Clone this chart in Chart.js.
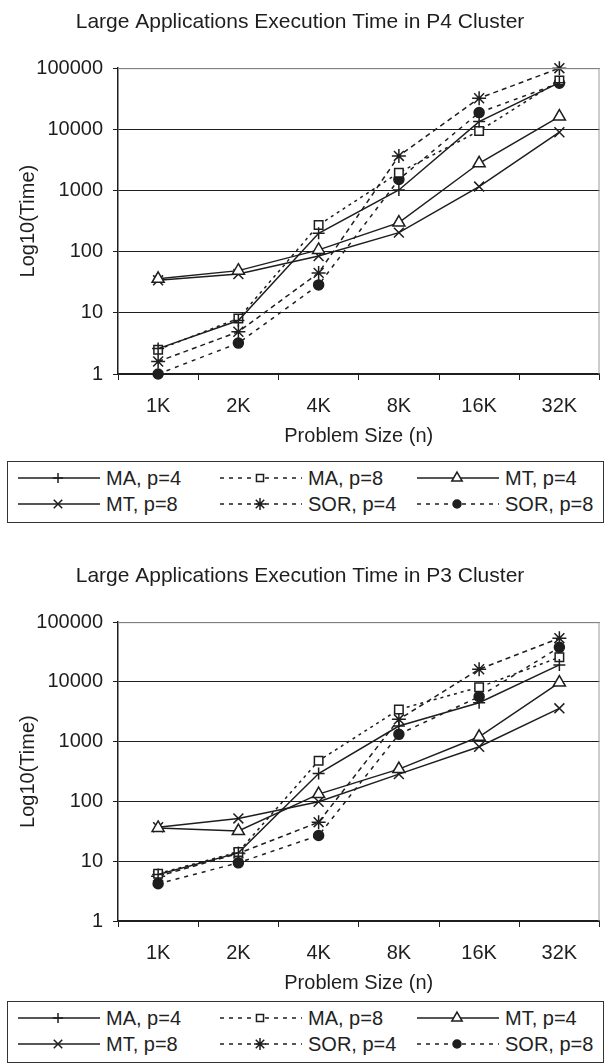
<!DOCTYPE html>
<html lang="en">
  <head>
    <meta charset="UTF-8" />
    <title>Large Applications Execution Time</title>
    <script src="https://cdn.jsdelivr.net/npm/chart.js"></script>
    <style>
      body {
        margin: 0;
        background: #fff;
        font-family: "Liberation Sans", Arial, sans-serif;
        color: #222;
      }
      .wrap {
        position: relative;
        width: 608px;
        height: 1063px;
        overflow: hidden;
      }
      .chart-box {
        position: absolute;
        left: 0;
        width: 608px;
      }
      .legend {
        position: absolute;
        left: 7px;
        width: 595px;
        height: 60px;
        border: 1px solid #333;
        font-size: 20px;
      }
      .legend .item {
        position: absolute;
        height: 26px;
        display: flex;
        align-items: center;
      }
      .legend canvas {
        margin-right: 6px;
      }
    </style>
  </head>
  <body>
    <div class="wrap">
      <div class="chart-box" style="top: 0; height: 448px">
        <canvas id="p4Chart"></canvas>
      </div>
      <div class="legend" id="p4Legend" style="top: 461px"></div>
      <div class="chart-box" style="top: 554px; height: 441px">
        <canvas id="p3Chart"></canvas>
      </div>
      <div class="legend" id="p3Legend" style="top: 1001px"></div>
    </div>

    <script>
      const sizes = ["1K", "2K", "4K", "8K", "16K", "32K"];
      const yTicks = [1, 10, 100, 1000, 10000, 100000];
      const seriesNames = ["MA, p=4", "MA, p=8", "MT, p=4", "MT, p=8", "SOR, p=4", "SOR, p=8"];

      // P4 cluster (seconds)
      const p4MA4 = [2.6, 7.5, 200, 1020, 13400, 58000];
      const p4MA8 = [2.5, 8.1, 273, 1960, 9440, 63000];
      const p4MT4 = [36, 49, 107, 299, 2790, 16200];
      const p4MT8 = [34, 43, 85, 205, 1160, 8980];
      const p4SOR4 = [1.6, 4.9, 45, 3680, 32300, 100000];
      const p4SOR8 = [1.0, 3.2, 28.6, 1520, 18800, 57000];

      // P3 cluster
      const p3MA4 = [6.0, 13.8, 294, 1830, 4500, 19300];
      const p3MA8 = [6.2, 14.3, 480, 3470, 8160, 25900];
      const p3MT4 = [36, 32, 133, 348, 1210, 9750];
      const p3MT8 = [37, 52, 99, 287, 825, 3620];
      const p3SOR4 = [5.6, 13.5, 45, 2370, 16300, 54000];
      const p3SOR8 = [4.2, 9.4, 27, 1330, 5680, 38000];

      const ink = "#1e1e1e";
      const fontFamily = "'Liberation Sans', Arial, sans-serif";

      // line / marker look for each series
      const styles = [
        { dash: [], point: "cross", radius: 6, fill: "#fff" },
        { dash: [3, 4], point: "rect", radius: 6, fill: "#fff" },
        { dash: [], point: "triangle", radius: 7, fill: "#fff" },
        { dash: [], point: "crossRot", radius: 7, fill: "#fff" },
        { dash: [5, 4], point: "star", radius: 7, fill: "#fff" },
        { dash: [4, 5], point: "circle", radius: 5, fill: ink },
      ];

      function buildDatasets(values) {
        return values.map((data, i) => ({
          label: seriesNames[i],
          data: data,
          borderColor: ink,
          borderWidth: 1.5,
          borderDash: styles[i].dash,
          pointStyle: styles[i].point,
          pointRadius: styles[i].radius,
          pointBorderWidth: 1.5,
          pointBorderColor: ink,
          pointBackgroundColor: styles[i].fill,
          tension: 0,
          clip: false,
        }));
      }

      const plotFrame = {
        id: "plotFrame",
        afterDatasetsDraw(chart) {
          const { ctx, chartArea } = chart;
          ctx.save();
          ctx.strokeStyle = "#9a9a9a";
          ctx.lineWidth = 1;
          ctx.beginPath();
          ctx.moveTo(chartArea.left, chartArea.top + 0.5);
          ctx.lineTo(chartArea.right - 0.5, chartArea.top + 0.5);
          ctx.lineTo(chartArea.right - 0.5, chartArea.bottom);
          ctx.stroke();
          ctx.restore();
        },
      };

      function makeChart(id, title, values) {
        return new Chart(document.getElementById(id), {
          type: "line",
          data: { labels: sizes, datasets: buildDatasets(values) },
          plugins: [plotFrame],
          options: {
            responsive: true,
            maintainAspectRatio: false,
            animation: false,
            layout: { padding: { left: 0, right: 8, top: 0, bottom: 0 } },
            plugins: {
              legend: { display: false },
              tooltip: { enabled: false },
              title: {
                display: true,
                text: title,
                color: ink,
                font: { family: fontFamily, size: 21, weight: "normal" },
                padding: { top: 10, bottom: 33 },
              },
            },
            scales: {
              x: {
                offset: true,
                border: { color: ink, width: 1.5 },
                grid: {
                  offset: true,
                  drawOnChartArea: false,
                  drawTicks: true,
                  tickLength: 6,
                  color: ink,
                },
                ticks: {
                  color: ink,
                  padding: 14,
                  font: { family: fontFamily, size: 20 },
                  maxRotation: 0,
                },
                title: {
                  display: true,
                  text: "Problem Size (n)",
                  color: ink,
                  font: { family: fontFamily, size: 20 },
                  padding: { top: 0, bottom: 0 },
                },
                afterFit: (scale) => {
                  scale.height = 74;
                },
              },
              y: {
                type: "logarithmic",
                min: 1,
                max: 100000,
                border: { color: ink, width: 1.5 },
                grid: {
                  color: ink,
                  lineWidth: 1,
                  tickLength: 5,
                },
                ticks: {
                  color: ink,
                  padding: 10,
                  font: { family: fontFamily, size: 20 },
                  callback: (v) => String(v),
                },
                afterBuildTicks: (scale) => {
                  scale.ticks = yTicks.map((v) => ({ value: v }));
                },
                title: {
                  display: true,
                  text: "Log10(Time)",
                  color: ink,
                  font: { family: fontFamily, size: 20 },
                  padding: { top: 16, bottom: 0 },
                },
                afterFit: (scale) => {
                  scale.width = 118;
                },
              },
            },
          },
        });
      }

      makeChart("p4Chart", "Large Applications Execution Time in P4 Cluster",
        [p4MA4, p4MA8, p4MT4, p4MT8, p4SOR4, p4SOR8]);
      makeChart("p3Chart", "Large Applications Execution Time in P3 Cluster",
        [p3MA4, p3MA8, p3MT4, p3MT8, p3SOR4, p3SOR8]);

      // legend: line sample with its marker, three columns by two rows
      const legendCols = [10, 212, 409];
      const legendRows = [3, 29];
      function buildLegend(id) {
        const box = document.getElementById(id);
        seriesNames.forEach((name, i) => {
          const col = i % 3;
          const row = Math.floor(i / 3);
          const item = document.createElement("div");
          item.className = "item";
          item.style.left = legendCols[col] + "px";
          item.style.top = legendRows[row] + "px";
          const c = document.createElement("canvas");
          c.width = 82;
          c.height = 26;
          const ctx = c.getContext("2d");
          ctx.strokeStyle = ink;
          ctx.lineWidth = 1.5;
          ctx.setLineDash(styles[i].dash.length ? [4, 5] : []);
          ctx.beginPath();
          ctx.moveTo(0, 13);
          ctx.lineTo(82, 13);
          ctx.stroke();
          ctx.setLineDash([]);
          ctx.fillStyle = styles[i].fill;
          Chart.helpers.drawPoint(ctx, {
            pointStyle: styles[i].point,
            radius: styles[i].radius - 1,
            borderWidth: 1.5,
          }, 40, 13);
          item.appendChild(c);
          const label = document.createElement("span");
          label.textContent = name;
          item.appendChild(label);
          box.appendChild(item);
        });
      }
      buildLegend("p4Legend");
      buildLegend("p3Legend");
    </script>
  </body>
</html>
